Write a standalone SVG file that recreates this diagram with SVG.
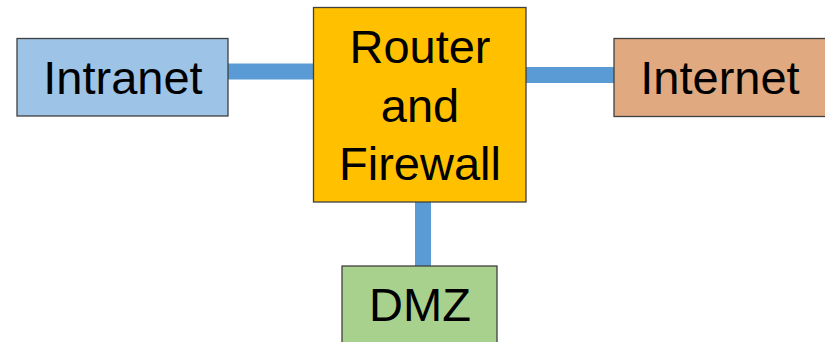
<svg xmlns="http://www.w3.org/2000/svg" width="825" height="342" viewBox="0 0 825 342">
<style>
.box{stroke:#404040;stroke-width:1.3}
.lbl{font-family:"Liberation Sans",Arial,sans-serif;font-size:47px;fill:#000;text-anchor:middle}
.conn{stroke:#5B9BD5;stroke-width:16;fill:none}
</style>
<rect width="825" height="342" fill="#fff"/>
<g id="connectors">
<line class="conn" x1="228" y1="71.5" x2="314" y2="71.5"/>
<line class="conn" x1="526" y1="75" x2="614" y2="75"/>
<line class="conn" x1="423" y1="202" x2="423" y2="266"/>
</g>
<g id="intranet">
<rect class="box" x="17" y="38.5" width="211" height="77.5" fill="#9DC3E6"/>
<text class="lbl" x="123" y="94">Intranet</text>
</g>
<g id="router">
<rect class="box" x="313.5" y="7.5" width="212.5" height="194.5" fill="#FFC000" stroke="#6e6248"/>
<text class="lbl" x="420" y="63">Router</text>
<text class="lbl" x="420" y="121.5">and</text>
<text class="lbl" x="420" y="179.5">Firewall</text>
</g>
<g id="internet">
<rect class="box" x="614" y="38.5" width="220" height="78" fill="#E0A97F"/>
<text class="lbl" x="720" y="94">Internet</text>
</g>
<g id="dmz">
<rect class="box" x="342" y="266" width="155" height="90" fill="#A9D18E"/>
<text class="lbl" x="420" y="321">DMZ</text>
</g>
</svg>
